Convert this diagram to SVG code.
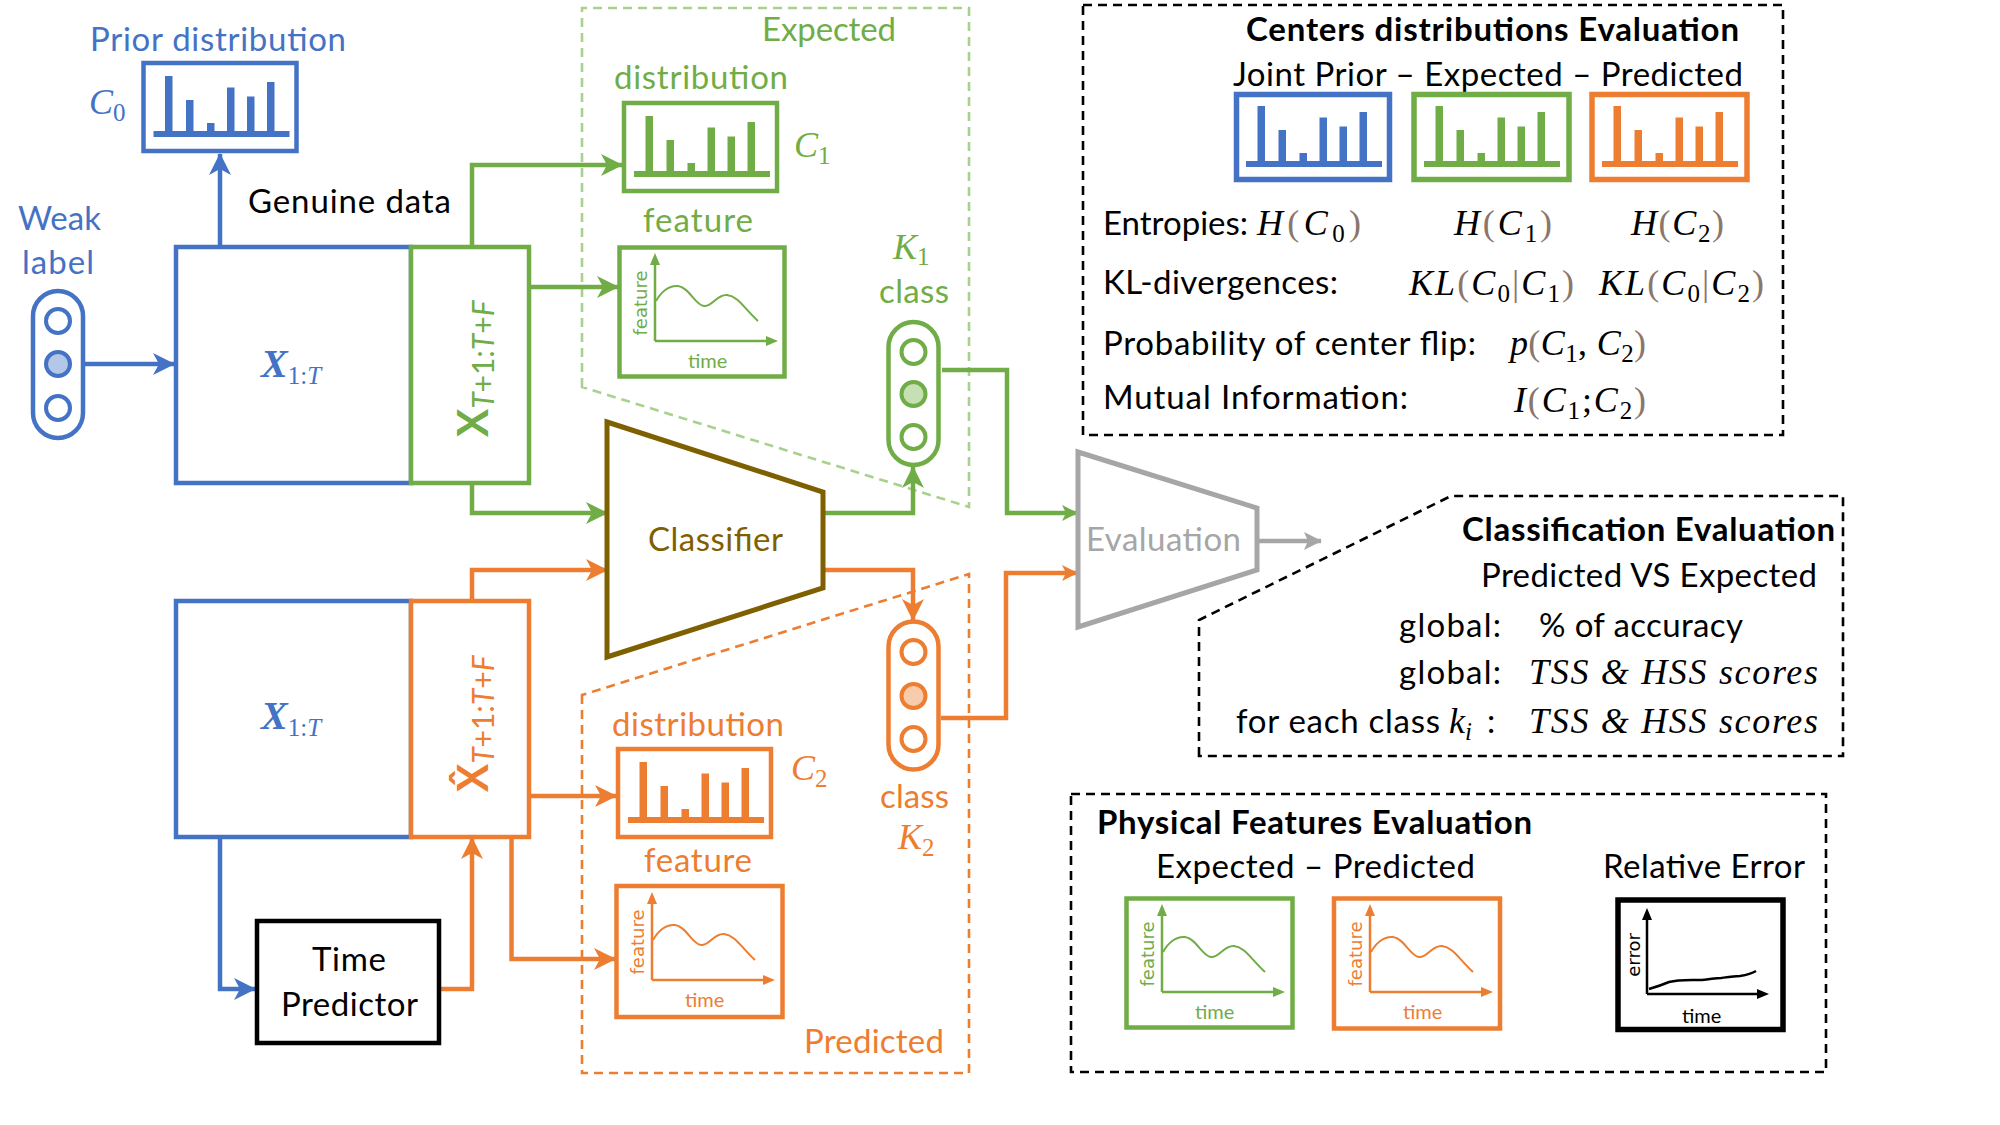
<svg xmlns="http://www.w3.org/2000/svg" width="2000" height="1125" viewBox="0 0 2000 1125">
<defs>
<style>
text{font-family:Lato,"Liberation Sans",sans-serif;}
.t{font-size:33px}
.bd{font-weight:700}
.m{font-family:"Liberation Serif","DejaVu Serif",serif;font-style:italic;font-size:36px}
.s{font-style:normal;font-size:25px}
.si{font-style:italic;font-size:25px}
.pr{fill:#8b766c;font-style:normal}
.sm{font-size:20px}
.ax{font-family:"DejaVu Sans",sans-serif;font-size:18px}
.cb{fill:#4472c4}.cg{fill:#70ad47}.co{fill:#ed7d31}.ck{fill:#000}
.box{fill:#fff;stroke-width:4.5}
.ln{fill:none;stroke-width:4.5;stroke-linejoin:miter}
.dash{fill:none;stroke-width:2.6;stroke-dasharray:9 6}
</style>
<marker id="ab" viewBox="0 0 22 22" refX="21" refY="11" markerWidth="22" markerHeight="22" markerUnits="userSpaceOnUse" orient="auto"><path d="M0,0 L22,11 L0,22 L6,11 z" fill="#4472c4"/></marker>
<marker id="ag" viewBox="0 0 22 22" refX="21" refY="11" markerWidth="22" markerHeight="22" markerUnits="userSpaceOnUse" orient="auto"><path d="M0,0 L22,11 L0,22 L6,11 z" fill="#70ad47"/></marker>
<marker id="ao" viewBox="0 0 22 22" refX="21" refY="11" markerWidth="22" markerHeight="22" markerUnits="userSpaceOnUse" orient="auto"><path d="M0,0 L22,11 L0,22 L6,11 z" fill="#ed7d31"/></marker>
<marker id="sg" viewBox="0 0 16 16" refX="15" refY="8" markerWidth="16" markerHeight="16" markerUnits="userSpaceOnUse" orient="auto"><path d="M0,0 L16,8 L0,16 L4,8 z" fill="#70ad47"/></marker>
<marker id="so" viewBox="0 0 16 16" refX="15" refY="8" markerWidth="16" markerHeight="16" markerUnits="userSpaceOnUse" orient="auto"><path d="M0,0 L16,8 L0,16 L4,8 z" fill="#ed7d31"/></marker>
<marker id="sgr" viewBox="0 0 18 18" refX="17" refY="9" markerWidth="18" markerHeight="18" markerUnits="userSpaceOnUse" orient="auto"><path d="M0,0 L18,9 L0,18 L4,9 z" fill="#a6a6a6"/></marker>
<symbol id="bars" viewBox="0 0 157 92" overflow="visible">
<rect x="12" y="70" width="136" height="6"/>
<rect x="23.5" y="15" width="7.5" height="56"/>
<rect x="44.5" y="39" width="7.5" height="32"/>
<rect x="65.5" y="62" width="7.5" height="9"/>
<rect x="85.5" y="26.5" width="7.5" height="44.5"/>
<rect x="105.5" y="35.5" width="7.5" height="35.5"/>
<rect x="125.5" y="21" width="7.5" height="50"/>
</symbol>
<symbol id="feat" viewBox="0 0 170 134" overflow="visible">
<path d="M38,96 V18 M38,96 H150" fill="none" stroke="currentColor" stroke-width="2.5"/>
<polygon points="38,8 33,20 43,20" fill="currentColor"/>
<polygon points="161,96 149,91 149,101" fill="currentColor"/>
<path d="M39,56 C44,47 52,40 61,41 C72,42 78,60 87,61 C95,62 100,49 110,50 C121,51 127,63 141,76" fill="none" stroke="currentColor" stroke-width="2"/>
<text x="71" y="123" class="sm" fill="currentColor">time</text>
<text transform="translate(30,58) rotate(-90)" text-anchor="middle" class="ax" fill="currentColor">feature</text>
</symbol>
</defs>
<rect width="2000" height="1125" fill="#fff"/>

<g id="expected-region">
<path class="dash" d="M582,387 V8 H969 V507 Z" stroke="#a9d18e"/>
<text class="t cg" x="762" y="41" textLength="134">Expected</text>
</g>
<g id="predicted-region">
<path class="dash" d="M582,695 V1073 H969 V574 Z" stroke="#ed7d31"/>
<text class="t co" x="804" y="1053" textLength="140">Predicted</text>
</g>

<g id="connectors">
<path class="ln" stroke="#4472c4" d="M85,364 H174" marker-end="url(#ab)"/>
<path class="ln" stroke="#4472c4" d="M220,246 V154" marker-end="url(#ab)"/>
<path class="ln" stroke="#4472c4" d="M220,838 V989 H255" marker-end="url(#ab)"/>
<path class="ln" stroke="#70ad47" d="M472,246 V165 H622" marker-end="url(#ag)"/>
<path class="ln" stroke="#70ad47" d="M531,287 H618" marker-end="url(#ag)"/>
<path class="ln" stroke="#70ad47" d="M472,483 V513 H607" marker-end="url(#ag)"/>
<path class="ln" stroke="#70ad47" d="M823,513 H913 V467" marker-end="url(#ag)"/>
<path class="ln" stroke="#70ad47" d="M942,370 H1007 V513 H1077" marker-end="url(#sg)"/>
<path class="ln" stroke="#ed7d31" d="M472,600 V570 H607" marker-end="url(#ao)"/>
<path class="ln" stroke="#ed7d31" d="M823,570 H913 V620" marker-end="url(#ao)"/>
<path class="ln" stroke="#ed7d31" d="M531,796 H616" marker-end="url(#ao)"/>
<path class="ln" stroke="#ed7d31" d="M511.5,838 V959 H615" marker-end="url(#ao)"/>
<path class="ln" stroke="#ed7d31" d="M441,989 H472 V838" marker-end="url(#ao)"/>
<path class="ln" stroke="#ed7d31" d="M941,718 H1006 V573 H1077" marker-end="url(#so)"/>
<path class="ln" stroke="#a6a6a6" d="M1258,541 H1321" marker-end="url(#sgr)"/>
</g>

<g id="prior-distribution">
<text class="t cb" x="90" y="51" textLength="256">Prior distribution</text>
<rect class="box" x="143.5" y="63" width="153" height="88" stroke="#4472c4"/>
<use href="#bars" x="141.5" y="61" width="157" height="92" fill="#4472c4"/>
<text class="m cb" x="89" y="114" font-size="34">C<tspan class="s" dy="7">0</tspan></text>
</g>

<g id="genuine-label"><text class="t ck" x="248" y="213" textLength="203">Genuine data</text></g>

<g id="weak-label">
<text class="t cb" x="18" y="230" textLength="83">Weak</text>
<text class="t cb" x="22" y="274" textLength="72">label</text>
<rect x="33" y="291" width="50" height="147" rx="25" fill="#fff" stroke="#4472c4" stroke-width="4.5"/>
<circle cx="58" cy="321" r="12" fill="#fff" stroke="#4472c4" stroke-width="4"/>
<circle cx="58" cy="364" r="12" fill="#b4c7e7" stroke="#4472c4" stroke-width="4"/>
<circle cx="58" cy="408" r="12" fill="#fff" stroke="#4472c4" stroke-width="4"/>
</g>

<g id="x-genuine">
<rect class="box" x="176" y="247" width="235" height="236" stroke="#4472c4"/>
<text class="m cb" x="261" y="377"><tspan font-weight="700" font-size="40">X</tspan><tspan class="s" dy="7">1:</tspan><tspan class="si">T</tspan></text>
</g>
<g id="x-future">
<rect class="box" x="411" y="247" width="118" height="236" stroke="#70ad47"/>
<text class="cg" transform="translate(488,437) rotate(-90)" font-family="Liberation Serif, serif"><tspan font-weight="700" font-size="42">X</tspan><tspan dy="6" font-size="30" font-style="italic">T</tspan><tspan font-size="30">+1:</tspan><tspan font-size="30" font-style="italic">T</tspan><tspan font-size="30">+</tspan><tspan font-size="30" font-style="italic">F</tspan></text>
</g>

<g id="x-genuine-2">
<rect class="box" x="176" y="601" width="235" height="236" stroke="#4472c4"/>
<text class="m cb" x="261" y="729"><tspan font-weight="700" font-size="40">X</tspan><tspan class="s" dy="7">1:</tspan><tspan class="si">T</tspan></text>
</g>
<g id="x-predicted">
<rect class="box" x="411" y="601" width="118" height="236" stroke="#ed7d31"/>
<text class="co" transform="translate(488,792) rotate(-90)" font-family="Liberation Serif, serif"><tspan font-weight="700" font-size="42">X&#x302;</tspan><tspan dy="6" font-size="30" font-style="italic">T</tspan><tspan font-size="30">+1:</tspan><tspan font-size="30" font-style="italic">T</tspan><tspan font-size="30">+</tspan><tspan font-size="30" font-style="italic">F</tspan></text>
</g>

<g id="time-predictor">
<rect class="box" x="257" y="921" width="182" height="122" stroke="#000"/>
<text class="t ck" x="312" y="971" textLength="74">Time</text>
<text class="t ck" x="281" y="1016" textLength="137">Predictor</text>
</g>

<g id="expected-distribution">
<text class="t cg" x="614" y="89" textLength="174">distribution</text>
<rect class="box" x="624" y="103" width="153" height="88" stroke="#70ad47"/>
<use href="#bars" x="622" y="101" width="157" height="92" fill="#70ad47"/>
<text class="m cg" x="794" y="157" font-size="34">C<tspan class="s" dy="7">1</tspan></text>
</g>
<g id="expected-feature">
<text class="t cg" x="643" y="232" textLength="110">feature</text>
<rect class="box" x="619.5" y="247.5" width="165" height="129" stroke="#70ad47"/>
<use href="#feat" x="617" y="245" width="170" height="134" style="color:#70ad47"/>
</g>

<g id="class-k1">
<text class="m cg" x="893" y="259" font-size="34">K<tspan class="s" dy="6">1</tspan></text>
<text class="t cg" x="879" y="303" textLength="70">class</text>
<rect x="888.5" y="322" width="50" height="143" rx="25" fill="#fff" stroke="#70ad47" stroke-width="4.5"/>
<circle cx="913.5" cy="352" r="12" fill="#fff" stroke="#70ad47" stroke-width="4"/>
<circle cx="913.5" cy="394" r="12" fill="#c5e0b4" stroke="#70ad47" stroke-width="4"/>
<circle cx="913.5" cy="437" r="12" fill="#fff" stroke="#70ad47" stroke-width="4"/>
</g>

<g id="classifier">
<polygon points="607,422 823,492 823,588 607,657" fill="#fff" stroke="#7f6000" stroke-width="5"/>
<text class="t" fill="#7f6000" x="648" y="551" textLength="135">Classifier</text>
</g>

<g id="class-k2">
<rect x="888.5" y="621.5" width="50" height="148" rx="25" fill="#fff" stroke="#ed7d31" stroke-width="4.5"/>
<circle cx="913.5" cy="652" r="12" fill="#fff" stroke="#ed7d31" stroke-width="4"/>
<circle cx="913.5" cy="696" r="12" fill="#f8cbad" stroke="#ed7d31" stroke-width="4"/>
<circle cx="913.5" cy="739" r="12" fill="#fff" stroke="#ed7d31" stroke-width="4"/>
<text class="t co" x="880" y="808" textLength="69">class</text>
<text class="m co" x="898" y="849" font-size="34">K<tspan class="s" dy="7">2</tspan></text>
</g>

<g id="predicted-distribution">
<text class="t co" x="612" y="736" textLength="172">distribution</text>
<rect class="box" x="618" y="749" width="153" height="88" stroke="#ed7d31"/>
<use href="#bars" x="616" y="747" width="157" height="92" fill="#ed7d31"/>
<text class="m co" x="791" y="780" font-size="34">C<tspan class="s" dy="7">2</tspan></text>
</g>
<g id="predicted-feature">
<text class="t co" x="644" y="872" textLength="108">feature</text>
<rect class="box" x="616.5" y="886" width="166" height="131" stroke="#ed7d31"/>
<use href="#feat" x="614" y="884" width="170" height="134" style="color:#ed7d31"/>
</g>

<g id="evaluation">
<polygon points="1078,452 1257,508 1257,570 1078,627" fill="#fff" stroke="#a6a6a6" stroke-width="5"/>
<text class="t" fill="#a6a6a6" x="1086" y="551" textLength="155">Evaluation</text>
</g>

<g id="centers-evaluation">
<rect class="dash" x="1083" y="5" width="700" height="430" stroke="#000"/>
<text class="t bd ck" x="1246" y="41" textLength="493">Centers distributions Evaluation</text>
<text class="t ck" x="1233" y="86" textLength="510">Joint Prior – Expected – Predicted</text>
<rect x="1236.5" y="94.5" width="153" height="85" fill="#fff" stroke="#4472c4" stroke-width="5.5"/>
<use href="#bars" x="1234" y="91" width="157" height="92" fill="#4472c4"/>
<rect x="1414" y="94.5" width="155" height="85" fill="#fff" stroke="#70ad47" stroke-width="5.5"/>
<use href="#bars" x="1412" y="91" width="157" height="92" fill="#70ad47"/>
<rect x="1592" y="94.5" width="155" height="85" fill="#fff" stroke="#ed7d31" stroke-width="5.5"/>
<use href="#bars" x="1590" y="91" width="157" height="92" fill="#ed7d31"/>
<text class="t ck" x="1103" y="235" textLength="145">Entropies:</text>
<text class="m ck" x="1257" y="235" textLength="104">H<tspan class="pr">(</tspan>C<tspan class="s" dy="7">0</tspan><tspan class="pr" dy="-7">)</tspan></text>
<text class="m ck" x="1454" y="235" textLength="98">H<tspan class="pr">(</tspan>C<tspan class="s" dy="7">1</tspan><tspan class="pr" dy="-7">)</tspan></text>
<text class="m ck" x="1631" y="235" textLength="93">H<tspan class="pr">(</tspan>C<tspan class="s" dy="7">2</tspan><tspan class="pr" dy="-7">)</tspan></text>
<text class="t ck" x="1103" y="294" textLength="235">KL-divergences:</text>
<text class="m ck" x="1409" y="295" textLength="165">KL<tspan class="pr">(</tspan>C<tspan class="s" dy="7">0</tspan><tspan class="pr" dy="-7">|</tspan>C<tspan class="s" dy="7">1</tspan><tspan class="pr" dy="-7">)</tspan></text>
<text class="m ck" x="1599" y="295" textLength="165">KL<tspan class="pr">(</tspan>C<tspan class="s" dy="7">0</tspan><tspan class="pr" dy="-7">|</tspan>C<tspan class="s" dy="7">2</tspan><tspan class="pr" dy="-7">)</tspan></text>
<text class="t ck" x="1103" y="355" textLength="373">Probability of center flip:</text>
<text class="m ck" x="1510" y="355" textLength="136">p<tspan class="pr">(</tspan>C<tspan class="s" dy="7">1</tspan><tspan dy="-7" font-style="normal">, </tspan>C<tspan class="s" dy="7">2</tspan><tspan class="pr" dy="-7">)</tspan></text>
<text class="t ck" x="1103" y="409" textLength="305">Mutual Information:</text>
<text class="m ck" x="1514" y="412" textLength="132">I<tspan class="pr">(</tspan>C<tspan class="s" dy="7">1</tspan><tspan dy="-7" font-style="normal">;</tspan>C<tspan class="s" dy="7">2</tspan><tspan class="pr" dy="-7">)</tspan></text>
</g>

<g id="classification-evaluation">
<path class="dash" d="M1199,756 V620 L1451,496 H1843 V756 Z" stroke="#000"/>
<text class="t bd ck" x="1462" y="541" textLength="373">Classification Evaluation</text>
<text class="t ck" x="1481" y="587" textLength="336">Predicted VS Expected</text>
<text class="t ck" x="1399" y="637" textLength="102">global:</text>
<text class="t ck" x="1539" y="637" textLength="204">% of accuracy</text>
<text class="t ck" x="1399" y="684" textLength="102">global:</text>
<text class="m ck" x="1529" y="684" font-size="37" textLength="289">TSS &amp; HSS scores</text>
<text class="t ck" x="1236" y="733" textLength="204">for each class</text>
<text class="m ck" x="1449" y="733" font-size="37">k<tspan class="si" dy="7">i</tspan></text>
<text class="t ck" x="1487" y="733">:</text>
<text class="m ck" x="1529" y="733" font-size="37" textLength="289">TSS &amp; HSS scores</text>
</g>

<g id="physical-evaluation">
<rect class="dash" x="1071" y="794" width="755" height="278" stroke="#000"/>
<text class="t bd ck" x="1097" y="834" textLength="435">Physical Features Evaluation</text>
<text class="t ck" x="1156" y="878" textLength="319">Expected – Predicted</text>
<text class="t ck" x="1603" y="878" textLength="202">Relative Error</text>
<rect class="box" x="1126.5" y="898.5" width="166" height="129" stroke="#70ad47"/>
<use href="#feat" x="1124" y="896" width="170" height="134" style="color:#70ad47"/>
<rect class="box" x="1334" y="898.5" width="166" height="130" stroke="#ed7d31"/>
<use href="#feat" x="1332" y="896" width="170" height="134" style="color:#ed7d31"/>
<rect x="1618" y="900" width="165" height="129.5" fill="#fff" stroke="#000" stroke-width="5.5"/>
<path d="M1647,994 V918 M1647,994 H1758" fill="none" stroke="#000" stroke-width="2.5"/>
<polygon points="1647,908 1642,920 1652,920" fill="#000"/>
<polygon points="1769,994 1757,989 1757,999" fill="#000"/>
<path d="M1649,989 C1656,987 1662,985 1669,982 C1680,979 1692,980 1702,980 C1712,979 1716,978 1721,978 C1728,977 1734,976 1740,976 C1746,975 1751,974 1756,971" fill="none" stroke="#000" stroke-width="2.5"/>
<text class="ax ck" transform="translate(1640,955) rotate(-90)" text-anchor="middle">error</text>
<text class="sm ck" x="1682" y="1023">time</text>
</g>
</svg>
